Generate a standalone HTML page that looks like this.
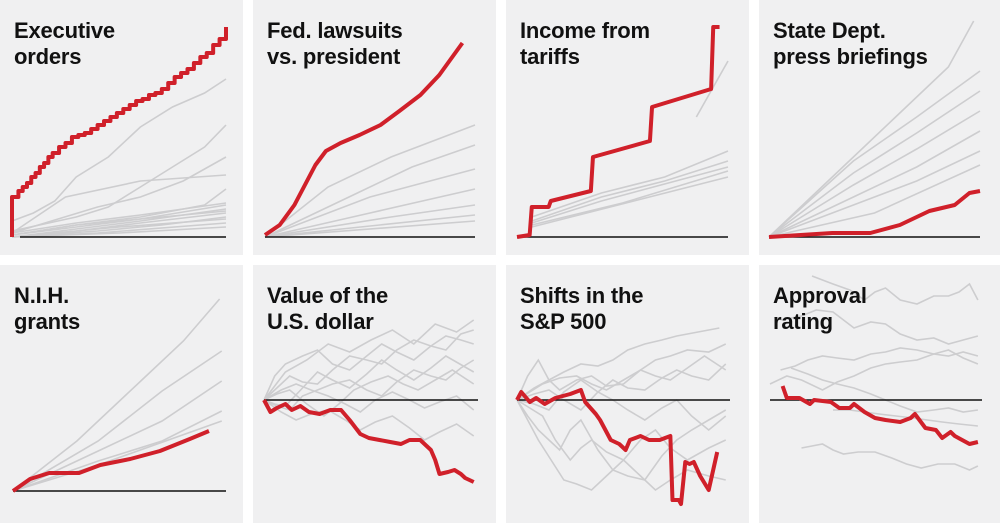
<!DOCTYPE html>
<html><head><meta charset="utf-8">
<style>
html,body{margin:0;padding:0;background:#fff;}
body{width:1000px;height:523px;overflow:hidden;position:relative;font-family:"Liberation Sans",Arial,sans-serif;}
.panel{position:absolute;background:#f0f0f1;}
.title{position:absolute;left:14px;top:18px;font-weight:bold;font-size:22px;line-height:26px;color:#111;letter-spacing:-0.2px;z-index:2;}
svg{position:absolute;left:0;top:0;}
</style></head>
<body>
<div class="panel" style="left:0;top:0;width:243px;height:255px"><div class="title">Executive<br>orders</div></div>
<div class="panel" style="left:253px;top:0;width:243px;height:255px"><div class="title">Fed. lawsuits<br>vs. president</div></div>
<div class="panel" style="left:506px;top:0;width:243px;height:255px"><div class="title">Income from<br>tariffs</div></div>
<div class="panel" style="left:759px;top:0;width:241px;height:255px"><div class="title">State Dept.<br>press briefings</div></div>
<div class="panel" style="left:0;top:265px;width:243px;height:258px"><div class="title">N.I.H.<br>grants</div></div>
<div class="panel" style="left:253px;top:265px;width:243px;height:258px"><div class="title">Value of the<br>U.S. dollar</div></div>
<div class="panel" style="left:506px;top:265px;width:243px;height:258px"><div class="title">Shifts in the<br>S&amp;P 500</div></div>
<div class="panel" style="left:759px;top:265px;width:241px;height:258px"><div class="title">Approval<br>rating</div></div>
<svg id="chart" width="1000" height="523"></svg>
<script>
// Data: x = day (0-100), y = value
const eoDays=[0,0,3,5,7,9,11,13,15,17,19,22,25,28,31,34,37,40,43,46,49,52,55,58,61,64,67,70,73,76,79,82,85,88,91,94,97,100];
const eoVals=[0,20,23,25,27,30,32,35,37,40,42,45,47,50,51,52,54,56,58,60,62,64,66,68,69,71,72,74,77,80,82,84,87,90,92,96,99,105];
const eoRed=eoDays.map((d,i)=>[d,eoVals[i]]);
const eoGray=[
[[0,8],[10,12],[20,18],[30,30],[45,40],[60,55],[75,65],[90,72],[100,79]],
[[0,3],[30,10],[45,15],[60,25],[75,35],[90,45],[100,56]],
[[0,2],[40,15],[60,20],[80,28],[100,40]],
[[0,2],[25,20],[60,28],[100,31]],
[[0,1],[30,6],[60,10],[90,16],[100,24]],[[0,1],[30,5],[60,9],[100,16]],[[0,0],[30,4],[60,8],[100,14]],
[[0,0],[30,3],[60,7],[100,12]],[[0,0],[40,3],[70,6],[100,10]],[[0,0],[40,2],[100,7]],[[0,0],[50,2],[100,5]],
[[0,2],[30,7],[60,11],[100,17]],[[0,1],[30,6],[70,10],[100,13]],[[0,0],[50,5],[100,9]]];
const lwRed=[[0,1],[7,6],[14,16],[19,26],[24,36],[29,43],[36,47],[45,51],[55,56],[64,63],[74,71],[83,81],[94,97]];
const lwGray=[[[0,0],[30,25],[60,40],[100,56]],[[0,0],[40,20],[70,35],[100,46]],[[0,0],[50,20],[100,34]],[[0,0],[50,12],[100,24]],[[0,0],[60,10],[100,16]],[[0,0],[100,11]],[[0,0],[100,8]]];
const tfRed=[[0,0],[6,1],[7,15],[15,15],[16,18],[35,23],[36,40],[63,48],[64,65],[92,74],[93,105],[96,105]];
const tfGray=[[[7,10],[40,22],[70,30],[100,43]],[[7,8],[40,20],[70,28],[100,38]],[[7,7],[40,18],[100,35]],[[7,6],[50,17],[100,33]],[[7,5],[100,30]],[[85,60],[100,88]]];
const pbRed=[[0,0],[15,1],[30,2],[48,2],[62,6],[76,13],[88,16],[95,22],[100,23]];
const pbGray=[[[0,0],[30,30],[60,60],[85,85],[97,108]],[[0,0],[40,38],[70,60],[100,83]],[[0,0],[40,32],[70,52],[100,73]],[[0,0],[40,26],[70,44],[100,63]],[[0,0],[40,20],[70,35],[100,53]],[[0,0],[40,16],[70,28],[100,43]],[[0,0],[50,12],[100,36]]];
const nihRed=[[0,0],[8,6],[17,9],[31,9],[41,13],[55,16],[69,20],[83,26],[92,30]];
const nihGray=[[[0,0],[30,25],[60,55],[80,75],[97,96]],[[0,0],[40,25],[70,50],[98,70]],[[0,0],[40,20],[70,35],[98,55]],[[0,0],[40,15],[70,25],[98,40]],[[0,0],[40,13],[98,35]]];
const usdRed=[[0,0],[3,-6],[6,-4],[10,-2],[13,-5],[17,-3],[21,-6],[26,-7],[31,-5],[36,-5],[40,-10],[45,-17],[49,-19],[54,-20],[59,-21],[64,-22],[68,-20],[73,-20],[76,-23],[78,-25],[80,-30],[82,-37],[86,-36],[89,-35],[92,-37],[94,-39],[98,-41]];
const usdGray=[[[0,0],[6,6],[12,12],[18,9],[25,8],[32,15],[40,22],[48,20],[55,18],[62,25],[70,30],[78,27],[85,25],[92,33],[98,35]],[[0,0],[6,-3],[12,-5],[18,2],[25,5],[32,8],[40,10],[48,5],[55,2],[62,9],[70,15],[78,12],[85,10],[92,16],[98,20]],[[0,0],[5,12],[10,18],[18,22],[25,25],[32,18],[40,15],[48,22],[55,28],[62,24],[70,20],[78,27],[85,32],[92,30],[98,28]],[[0,0],[8,-6],[15,-10],[22,-7],[30,-5],[38,-10],[45,-15],[52,-11],[60,-8],[68,-14],[75,-20],[82,-16],[90,-12],[98,-18]],[[0,0],[6,3],[12,5],[20,-2],[28,-8],[35,-2],[42,5],[50,9],[58,12],[65,8],[72,5],[80,10],[88,15],[98,8]],[[0,0],[5,-2],[10,-3],[18,6],[25,14],[32,10],[40,6],[48,13],[55,20],[62,15],[70,10],[78,16],[85,22],[98,14]],[[0,0],[8,5],[15,8],[22,5],[30,2],[38,-2],[45,-6],[52,0],[60,4],[68,0],[75,-4],[82,-1],[90,2],[98,-5]],[[0,0],[10,14],[20,20],[30,28],[40,24],[50,30],[60,35],[70,28],[80,38],[90,34],[98,40]]];
const spRed=[[0,0],[2,4],[6,-1],[9,1],[13,-2],[18,1],[25,3],[30,5],[32,-1],[37,-7],[39,-10],[44,-20],[48,-22],[51,-25],[53,-20],[58,-18],[62,-20],[67,-20],[72,-18],[73,-50],[76,-50],[77,-52],[79,-31],[81,-32],[83,-31],[86,-38],[90,-45],[94,-26]];
const spGray=[[[0,0],[8,6],[15,10],[22,14],[30,18],[38,17],[45,20],[52,25],[60,28],[68,30],[75,32],[85,34],[95,36]],[[0,0],[5,12],[10,20],[15,10],[20,5],[28,10],[35,12],[42,7],[50,8],[58,15],[65,20],[72,22],[80,25],[90,24],[98,28]],[[0,0],[5,-8],[10,-15],[15,-20],[20,-25],[25,-15],[30,-10],[38,-25],[45,-35],[52,-38],[60,-40],[68,-28],[75,-20],[82,-15],[90,-10],[98,-5]],[[0,0],[6,-4],[12,-8],[18,-20],[25,-30],[30,-24],[35,-20],[42,-26],[50,-30],[58,-20],[65,-15],[72,-24],[80,-30],[90,-24],[98,-20]],[[0,0],[8,3],[15,5],[22,0],[30,-5],[38,4],[45,10],[52,6],[60,5],[68,11],[75,15],[82,12],[90,10],[98,18]],[[0,0],[5,-10],[10,-20],[16,-30],[22,-40],[28,-42],[35,-45],[42,-38],[50,-30],[58,-38],[65,-45],[72,-40],[80,-35],[90,-38],[98,-40]],[[0,0],[8,-2],[15,-5],[22,4],[30,10],[38,4],[45,0],[52,-5],[60,-10],[68,-4],[75,0],[82,-8],[90,-15],[98,-8]],[[0,0],[6,4],[12,8],[20,11],[28,12],[35,8],[42,5],[50,10],[58,15],[65,12],[72,10],[80,16],[88,22],[98,15]]];
const apRed=[[6,7],[8,1],[14,1],[19,-2],[21,0],[29,-1],[33,-4],[38,-4],[40,-2],[45,-6],[50,-9],[55,-10],[62,-11],[67,-9],[69,-7],[74,-14],[79,-15],[82,-19],[86,-16],[88,-18],[95,-22],[99,-21]];
const apGray=[[[20,62],[25,60],[30,58],[38,55],[45,50],[50,54],[55,56],[62,50],[70,48],[78,52],[85,52],[90,54],[95,58],[99,50]],[[5,40],[15,42],[22,45],[30,44],[35,40],[40,36],[48,39],[55,38],[62,33],[70,30],[78,31],[85,28],[92,30],[99,32]],[[5,15],[12,17],[18,20],[25,22],[32,21],[40,20],[48,23],[55,24],[62,26],[70,25],[78,23],[85,22],[92,24],[99,22]],[[0,8],[8,12],[15,10],[25,5],[32,9],[40,12],[48,16],[55,18],[62,19],[70,20],[78,23],[85,25],[92,21],[99,18]],[[10,16],[18,13],[25,10],[32,8],[40,6],[48,3],[55,0],[62,-3],[70,-6],[78,-5],[85,-4],[92,-6],[99,-5]],[[30,-5],[38,-5],[45,-6],[52,-7],[60,-8],[68,-9],[75,-10],[82,-11],[90,-12],[99,-13]],[[15,-24],[20,-23],[25,-22],[30,-25],[35,-27],[42,-26],[50,-26],[58,-29],[65,-32],[72,-34],[80,-32],[88,-32],[95,-35],[99,-33]]];

const panels=[
 {name:'executive-orders',x0:12,x1:226,base:237,k:2,line:[20,226],red:eoRed,gray:eoGray,step:true},
 {name:'lawsuits',x0:265,x1:475,base:237,k:2,line:[265,475],red:lwRed,gray:lwGray},
 {name:'tariffs',x0:517,x1:728,base:237,k:2,line:[517,728],red:tfRed,gray:tfGray},
 {name:'press-briefings',x0:769,x1:980,base:237,k:2,line:[769,980],red:pbRed,gray:pbGray},
 {name:'nih-grants',x0:13,x1:226,base:491,k:2,line:[13,226],red:nihRed,gray:nihGray},
 {name:'dollar',x0:264,x1:478,base:400,k:2,line:[264,478],red:usdRed,gray:usdGray},
 {name:'sp500',x0:517,x1:730,base:400,k:2,line:[517,730],red:spRed,gray:spGray},
 {name:'approval',x0:770,x1:980,base:400,k:2,line:[770,982],red:apRed,gray:apGray}
];
const svg=document.getElementById('chart');
const NS='http://www.w3.org/2000/svg';
function pathFor(p,pts,step){
 const X=d=>p.x0+d/100*(p.x1-p.x0), Y=v=>p.base-v*p.k;
 let s='';
 pts.forEach((q,i)=>{
  if(i===0){s+='M'+X(q[0])+','+Y(q[1]);}
  else if(step){s+='H'+X(q[0])+'V'+Y(q[1]);}
  else s+='L'+X(q[0])+','+Y(q[1]);
 });
 return s;
}
panels.forEach(p=>{
 p.gray.forEach((g,i)=>{
  const el=document.createElementNS(NS,'path');
  el.setAttribute('d',pathFor(p,g,false));
  el.setAttribute('fill','none');el.setAttribute('stroke','#cdcdcf');el.setAttribute('stroke-width','1.6');
  
  
  svg.appendChild(el);
 });
 const b=document.createElementNS(NS,'line');
 b.setAttribute('x1',p.line[0]);b.setAttribute('x2',p.line[1]);b.setAttribute('y1',p.base);b.setAttribute('y2',p.base);
 b.setAttribute('stroke','#111');b.setAttribute('stroke-width','1.5');
 
 
 svg.appendChild(b);
 const r=document.createElementNS(NS,'path');
 r.setAttribute('d',pathFor(p,p.red,!!p.step));
 r.setAttribute('fill','none');r.setAttribute('stroke','#d0202a');r.setAttribute('stroke-width','4');r.setAttribute('stroke-linejoin','round');
 
 
 svg.appendChild(r);
});
</script>
</body></html>
